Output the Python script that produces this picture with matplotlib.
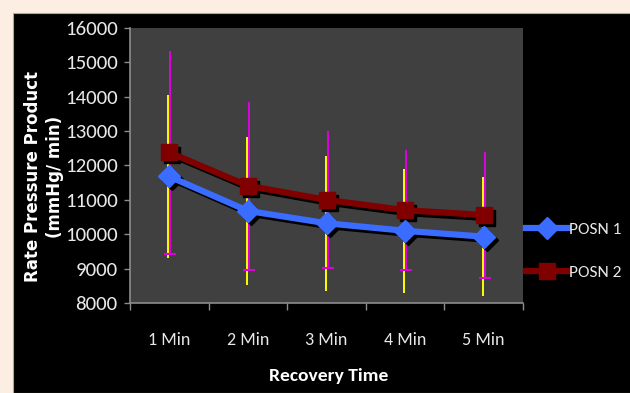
import matplotlib
matplotlib.use("Agg")
import matplotlib.pyplot as plt
from matplotlib.patches import Rectangle
from matplotlib.transforms import ScaledTranslation

# values
times = ["1 Min", "2 Min", "3 Min", "4 Min", "5 Min"]
posn1 = [11680, 10680, 10320, 10100, 9930]
posn1_err = [2380, 2150, 1960, 1800, 1740]
posn2 = [12380, 11410, 11000, 10700, 10560]
posn2_err = [2960, 2440, 1990, 1745, 1820]
yticks = [8000, 9000, 10000, 11000, 12000, 13000, 14000, 15000, 16000]

narrow = ["Carlito", "Open Sans Condensed", "DejaVu Sans"]
txtColor = "#e8e8e8"

fig = plt.figure(figsize=(6.3, 3.93), dpi=100)
fig.patch.set_facecolor("#fdeee3")
# black chart panel
fig.patches.append(Rectangle((13 / 630, 0), 1.0, 1 - 12.5 / 393, transform=fig.transFigure,
                             facecolor="black", edgecolor="#b0a8a0", linewidth=0.8, zorder=-5))

ax = fig.add_axes([130 / 630, 1 - 303 / 393, 393 / 630, 275 / 393])
ax.set_facecolor("#404040")
x = list(range(len(times)))

def shift(px, py=0):
    return ax.transData + ScaledTranslation(px / 100, py / 100, fig.dpi_scale_trans)

# error bars (yellow for POSN 1, magenta for POSN 2)
eb1 = ax.errorbar(x, posn1, yerr=posn1_err, fmt="none", ecolor="#ffff00", elinewidth=1.4,
                  capsize=0, transform=shift(-1), zorder=2)
eb2 = ax.errorbar(x, posn2, yerr=posn2_err, fmt="none", ecolor="#e000e0", elinewidth=1.4,
                  capsize=4, capthick=1.4, transform=shift(1), zorder=2)
eb2[1][1].set_visible(False)

# drop shadows
for vals, mk, ms in [(posn1, "D", 11), (posn2, "s", 11.5)]:
    ax.plot(x, vals, color="black", marker=mk, markersize=ms, linewidth=4.5,
            transform=shift(3, -3), zorder=3)

l2, = ax.plot(x, posn2, color="#800000", marker="s", markersize=11.5, linewidth=4.5,
              label="POSN 2", zorder=4)
l1, = ax.plot(x, posn1, color="#3a6cff", marker="D", markersize=11, linewidth=4.5,
              label="POSN 1", zorder=5)

ax.set_xlim(-0.5, len(times) - 0.5)
ax.set_ylim(8000, 16000)
ax.set_yticks(yticks)
ax.set_yticklabels([str(v) for v in yticks], fontsize=15, family=narrow, color=txtColor)
ax.set_xticks([i - 0.5 for i in range(len(times) + 1)])
ax.set_xticklabels([])
ax.set_xticks(x, minor=True)
ax.set_xticklabels(times, minor=True, fontsize=13, family=narrow, color=txtColor)
ax.tick_params(axis="x", which="major", direction="out", length=5, color="#8c8c8c", width=1)
ax.tick_params(axis="x", which="minor", length=0, pad=21)
ax.tick_params(axis="y", direction="out", length=4, color="#8c8c8c", width=1, pad=5)
for s in ["top", "right"]:
    ax.spines[s].set_visible(False)
for s in ["left", "bottom"]:
    ax.spines[s].set_color("#8c8c8c")
    ax.spines[s].set_linewidth(1.2)

fig.text(329 / 630, 1 - 376 / 393, "Recovery Time", ha="center", va="center",
         fontsize=14, fontweight="bold", family=narrow, color="white")
fig.text(44 / 630, 1 - 177 / 393, "Rate Pressure Product\n(mmHg/ min)", rotation=90,
         ha="center", va="center", multialignment="center", linespacing=1.35,
         fontsize=12, fontweight="bold", family="DejaVu Sans", color="white")

leg = ax.legend(handles=[l1, l2], loc="upper left", bbox_to_anchor=(526 / 630, 1 - 222 / 393),
                bbox_transform=fig.transFigure, frameon=False, borderpad=0, borderaxespad=0,
                handlelength=2.4, handletextpad=0.1, labelspacing=1.6,
                prop={"family": narrow, "size": 12.5})
for t in leg.get_texts():
    t.set_color(txtColor)

fig.savefig("out.png", dpi=100, facecolor=fig.get_facecolor())
